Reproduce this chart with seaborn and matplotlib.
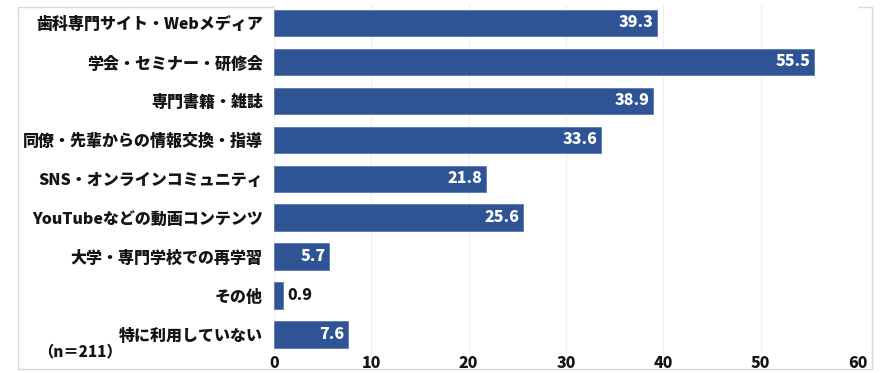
import matplotlib
matplotlib.use("Agg")
import matplotlib.pyplot as plt
import seaborn as sns
import pandas as pd
from matplotlib.patches import Rectangle

# data
categories = [
    "歯科専門サイト・Webメディア",
    "学会・セミナー・研修会",
    "専門書籍・雑誌",
    "同僚・先輩からの情報交換・指導",
    "SNS・オンラインコミュニティ",
    "YouTubeなどの動画コンテンツ",
    "大学・専門学校での再学習",
    "その他",
    "特に利用していない",
]
values = [39.3, 55.5, 38.9, 33.6, 21.8, 25.6, 5.7, 0.9, 7.6]
x_ticks = [0, 10, 20, 30, 40, 50, 60]
n_label = "（n＝211）"

df = pd.DataFrame({"category": categories, "value": values})

sns.set_theme(style="white")
plt.rcParams["font.family"] = ["Noto Sans CJK JP", "DejaVu Sans"]

bar_color = "#2F5496"
text_color = "#141414"
weight = "heavy"

fig = plt.figure(figsize=(8.91, 3.73), dpi=100)
ax = fig.add_axes([274 / 891, 1 - 354 / 373, (858 - 274) / 891, 350.5 / 373])

sns.barplot(data=df, x="value", y="category", color=bar_color, width=0.68,
            saturation=1, edgecolor="#5a78b0", linewidth=0.6, ax=ax)

ax.set_xlim(0, 60)
ax.set_ylim(len(categories) - 0.5, -0.5)
ax.set_xticks(x_ticks)
ax.set_xticklabels([str(t) for t in x_ticks], fontsize=11.5, fontweight=weight, color=text_color)
ax.set_yticklabels(categories, fontsize=11.5, fontweight=weight, color=text_color)
ax.tick_params(axis="y", length=0, pad=8)
ax.tick_params(axis="x", length=0, pad=1.5)
ax.set_xlabel("")
ax.set_ylabel("")
for s in ax.spines.values():
    s.set_visible(False)
ax.xaxis.grid(True, color="#f0f0f0", linewidth=0.8)
ax.set_axisbelow(True)

# value labels: inside in white, outside in black for small bars
for i, v in enumerate(values):
    if v >= 3:
        ax.annotate(f"{v:.1f}", xy=(v, i), xytext=(-2.5, 0), textcoords="offset points",
                    ha="right", va="center", color="white", fontsize=11.5, fontweight=weight)
    else:
        ax.annotate(f"{v:.1f}", xy=(v, i), xytext=(3.5, 0), textcoords="offset points",
                    ha="left", va="center", color=text_color, fontsize=11.5, fontweight=weight)

fig.text(38 / 891, 1 - 352 / 373, n_label, ha="left", va="center",
         fontsize=11, fontweight=weight, color=text_color)

# outer frame
fig.patches.append(Rectangle((18 / 891, 1 - 369 / 373), (872 - 18) / 891, (369 - 7) / 373,
                             transform=fig.transFigure, fill=False,
                             edgecolor="#d9d9d9", linewidth=1.0, zorder=-1))

fig.savefig("out.png", dpi=100)
